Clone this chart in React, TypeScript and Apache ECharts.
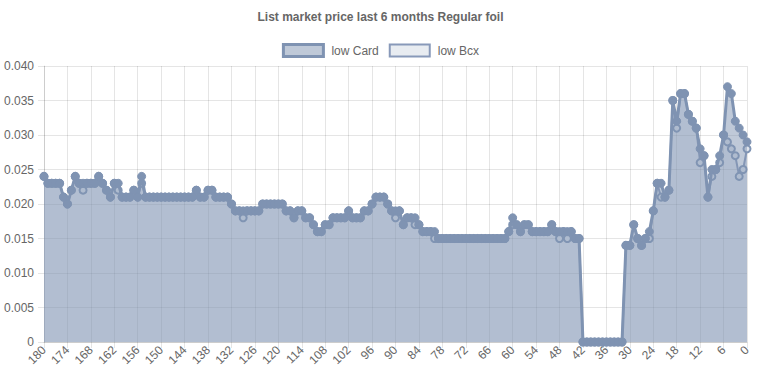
import React, { useEffect, useRef } from "react";
import * as echarts from "echarts";

const categories: string[] = [
  "180","179","178","177","176","175","174","173","172","171",
  "170","169","168","167","166","165","164","163","162","161",
  "160","159","158","157","156","155","154","153","152","151",
  "150","149","148","147","146","145","144","143","142","141",
  "140","139","138","137","136","135","134","133","132","131",
  "130","129","128","127","126","125","124","123","122","121",
  "120","119","118","117","116","115","114","113","112","111",
  "110","109","108","107","106","105","104","103","102","101",
  "100","99","98","97","96","95","94","93","92","91",
  "90","89","88","87","86","85","84","83","82","81",
  "80","79","78","77","76","75","74","73","72","71",
  "70","69","68","67","66","65","64","63","62","61",
  "60","59","58","57","56","55","54","53","52","51",
  "50","49","48","47","46","45","44","43","42","41",
  "40","39","38","37","36","35","34","33","32","31",
  "30","29","28","27","26","25","24","23","22","21",
  "20","19","18","17","16","15","14","13","12","11",
  "10","9","8","7","6","5","4","3","2","1","0",
];

const lowCard: number[] = [
  0.024, 0.023, 0.023, 0.023, 0.023, 0.021, 0.020, 0.022, 0.024, 0.023,
  0.023, 0.023, 0.023, 0.023, 0.024, 0.023, 0.022, 0.021, 0.023, 0.023,
  0.021, 0.021, 0.021, 0.022, 0.021, 0.024, 0.021, 0.021, 0.021, 0.021,
  0.021, 0.021, 0.021, 0.021, 0.021, 0.021, 0.021, 0.021, 0.021, 0.022,
  0.021, 0.021, 0.022, 0.022, 0.021, 0.021, 0.021, 0.021, 0.020, 0.019,
  0.019, 0.019, 0.019, 0.019, 0.019, 0.019, 0.020, 0.020, 0.020, 0.020,
  0.020, 0.020, 0.019, 0.019, 0.018, 0.019, 0.019, 0.018, 0.018, 0.017,
  0.016, 0.016, 0.017, 0.017, 0.018, 0.018, 0.018, 0.018, 0.019, 0.018,
  0.018, 0.018, 0.019, 0.019, 0.020, 0.021, 0.021, 0.021, 0.020, 0.019,
  0.019, 0.019, 0.017, 0.018, 0.018, 0.018, 0.017, 0.016, 0.016, 0.016,
  0.016, 0.015, 0.015, 0.015, 0.015, 0.015, 0.015, 0.015, 0.015, 0.015,
  0.015, 0.015, 0.015, 0.015, 0.015, 0.015, 0.015, 0.015, 0.015, 0.016,
  0.018, 0.017, 0.016, 0.017, 0.017, 0.016, 0.016, 0.016, 0.016, 0.016,
  0.017, 0.016, 0.016, 0.016, 0.016, 0.016, 0.015, 0.015, 0, 0,
  0, 0, 0, 0, 0, 0, 0, 0, 0, 0.014,
  0.014, 0.017, 0.015, 0.014, 0.015, 0.016, 0.019, 0.023, 0.023, 0.021,
  0.022, 0.035, 0.032, 0.036, 0.036, 0.033, 0.032, 0.031, 0.028, 0.027,
  0.021, 0.025, 0.025, 0.027, 0.030, 0.037, 0.036, 0.032, 0.031, 0.030,
  0.029,
];

const lowBcx: number[] = [
  0.024, 0.023, 0.023, 0.023, 0.023, 0.021, 0.020, 0.022, 0.024, 0.023,
  0.022, 0.023, 0.023, 0.023, 0.024, 0.023, 0.022, 0.021, 0.023, 0.022,
  0.021, 0.021, 0.021, 0.022, 0.021, 0.023, 0.021, 0.021, 0.021, 0.021,
  0.021, 0.021, 0.021, 0.021, 0.021, 0.021, 0.021, 0.021, 0.021, 0.022,
  0.021, 0.021, 0.022, 0.022, 0.021, 0.021, 0.021, 0.021, 0.020, 0.019,
  0.019, 0.018, 0.019, 0.019, 0.019, 0.019, 0.020, 0.020, 0.020, 0.020,
  0.020, 0.020, 0.019, 0.019, 0.018, 0.019, 0.019, 0.018, 0.018, 0.017,
  0.016, 0.016, 0.017, 0.017, 0.018, 0.018, 0.018, 0.018, 0.019, 0.018,
  0.018, 0.018, 0.019, 0.019, 0.020, 0.021, 0.021, 0.021, 0.020, 0.019,
  0.018, 0.019, 0.017, 0.018, 0.018, 0.017, 0.017, 0.016, 0.016, 0.016,
  0.015, 0.015, 0.015, 0.015, 0.015, 0.015, 0.015, 0.015, 0.015, 0.015,
  0.015, 0.015, 0.015, 0.015, 0.015, 0.015, 0.015, 0.015, 0.015, 0.016,
  0.017, 0.017, 0.016, 0.017, 0.017, 0.016, 0.016, 0.016, 0.016, 0.016,
  0.017, 0.016, 0.015, 0.016, 0.015, 0.016, 0.015, 0.015, 0, 0,
  0, 0, 0, 0, 0, 0, 0, 0, 0, 0.014,
  0.014, 0.017, 0.015, 0.014, 0.015, 0.015, 0.019, 0.023, 0.021, 0.021,
  0.022, 0.035, 0.031, 0.036, 0.036, 0.033, 0.032, 0.031, 0.026, 0.027,
  0.021, 0.024, 0.025, 0.026, 0.030, 0.029, 0.028, 0.027, 0.024, 0.025,
  0.028,
];

const FONT = "'Liberation Sans', Arial, Helvetica, sans-serif";
const GRID_COLOR = "rgba(0,0,0,0.1)";
const TEXT_COLOR = "#666";

export default function App() {
  const ref = useRef<HTMLDivElement>(null);

  useEffect(() => {
    if (!ref.current) return;
    const chart = echarts.init(ref.current, undefined, { renderer: "svg" });
    chart.setOption({
      animation: false,
      textStyle: { fontFamily: FONT },
      title: {
        text: "List market price last 6 months Regular foil",
        left: "center",
        top: 6,
        textStyle: { fontSize: 12, fontWeight: "bold", color: TEXT_COLOR, fontFamily: FONT },
      },
      legend: {
        top: 38,
        left: "center",
        itemWidth: 40,
        itemHeight: 12,
        itemGap: 10,
        textStyle: { fontSize: 12, color: TEXT_COLOR, fontFamily: FONT, padding: [0, 0, 0, 3] },
        data: [
          {
            name: "low Card",
            icon: "rect",
            itemStyle: { color: "rgba(127,147,178,0.5)", borderColor: "#7f93b2", borderWidth: 3 },
          },
          {
            name: "low Bcx",
            icon: "rect",
            itemStyle: { color: "rgba(127,147,178,0.18)", borderColor: "#8899b9", borderWidth: 2 },
          },
        ],
      },
      grid: { left: 44, right: 14, top: 66, bottom: 38, containLabel: false },
      xAxis: {
        type: "category",
        boundaryGap: false,
        data: categories,
        axisLine: { show: true, lineStyle: { color: GRID_COLOR } },
        axisTick: { show: true, interval: 5, length: 6, lineStyle: { color: GRID_COLOR } },
        axisLabel: {
          interval: 5,
          rotate: 45,
          fontSize: 12,
          color: TEXT_COLOR,
          fontFamily: FONT,
          margin: 6,
        },
        splitLine: { show: true, interval: 5, lineStyle: { color: GRID_COLOR } },
      },
      yAxis: {
        type: "value",
        min: 0,
        max: 0.04,
        interval: 0.005,
        axisLine: { show: true, lineStyle: { color: GRID_COLOR } },
        axisTick: { show: true, length: 6, lineStyle: { color: GRID_COLOR } },
        axisLabel: {
          fontSize: 12,
          color: TEXT_COLOR,
          fontFamily: FONT,
          margin: 10,
          formatter: (v: number) => (v === 0 ? "0" : v.toFixed(3)),
        },
        splitLine: { show: true, lineStyle: { color: GRID_COLOR } },
      },
      series: [
        {
          name: "low Card",
          type: "line",
          data: lowCard,
          z: 3,
          symbol: "circle",
          symbolSize: 8,
          showAllSymbol: true,
          lineStyle: { color: "#7f93b2", width: 3 },
          itemStyle: { color: "#7f93b2", borderColor: "#7f93b2", borderWidth: 1 },
          areaStyle: { color: "rgba(127,147,178,0.5)", opacity: 1, origin: "start" },
        },
        {
          name: "low Bcx",
          type: "line",
          data: lowBcx,
          z: 2,
          symbol: "circle",
          symbolSize: 7,
          showAllSymbol: true,
          lineStyle: { color: "#8899b9", width: 2 },
          itemStyle: { color: "#dfe4ec", borderColor: "#8095b4", borderWidth: 2 },
          areaStyle: { color: "rgba(127,147,178,0.2)", opacity: 1, origin: "start" },
        },
      ],
    });
    return () => chart.dispose();
  }, []);

  return (
    <div
      ref={ref}
      style={{ position: "absolute", left: 0, top: 0, width: 761, height: 380 }}
    />
  );
}
